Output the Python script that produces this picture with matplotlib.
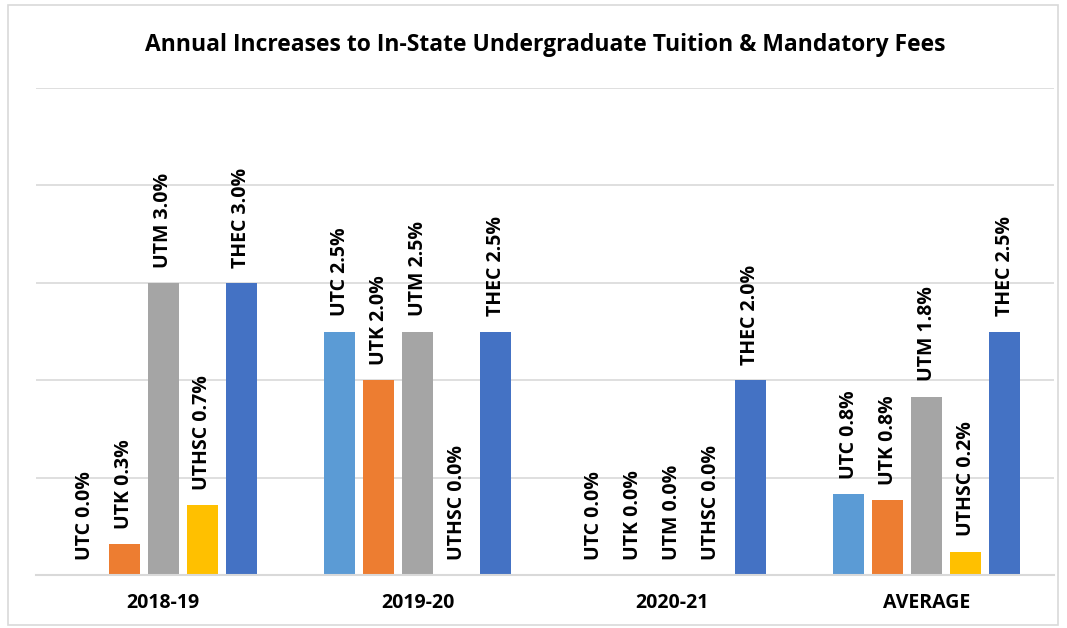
import numpy as np
import matplotlib
matplotlib.use('Agg')
import matplotlib.pyplot as plt
from matplotlib.patches import Rectangle

plt.rcParams['font.family'] = ['Open Sans', 'DejaVu Sans']

# Donnees
annees = ['2018-19', '2019-20', '2020-21', 'AVERAGE']
campus = ['UTC', 'UTK', 'UTM', 'UTHSC', 'THEC']
utc = [0.0, 2.5, 0.0, 0.83]
utk = [0.32, 2.0, 0.0, 0.77]
utm = [3.0, 2.5, 0.0, 1.83]
uthsc = [0.72, 0.0, 0.0, 0.24]
thec = [3.0, 2.5, 2.0, 2.5]
couleurs = ['#5B9BD5', '#ED7D31', '#A5A5A5', '#FFC000', '#4472C4']

series = [utc, utk, utm, uthsc, thec]

fig = plt.figure(figsize=(10.67, 6.28), dpi=100)
ax = fig.add_axes([36/1067, 1-575/628, 1018/1067, 487/628])

x = np.arange(len(annees))
larg = 0.122
pas = 0.153

for i, (nom, val) in enumerate(zip(campus, series)):
    pos = x + (i - 2) * pas
    ax.bar(pos, val, larg, color=couleurs[i], zorder=2)
    for xp, v in zip(pos, val):
        ax.annotate('%s %.1f%%' % (nom, v), (xp, v), xytext=(0, 11),
                    textcoords='offset points', rotation=90, ha='center',
                    va='bottom', fontsize=14, fontweight='bold', color='black')

ax.set_xlim(-0.5, 3.5)
ax.set_ylim(0, 5)
ax.set_yticks(np.arange(0, 6, 1))
ax.set_yticklabels([])
ax.yaxis.grid(True, color='#D9D9D9', lw=1.2, zorder=0)
ax.tick_params(axis='y', length=0)
ax.tick_params(axis='x', length=0, pad=13)
ax.set_xticks(x)
ax.set_xticklabels(annees, fontsize=14, fontweight='bold')
for s in ['top', 'right', 'left']:
    ax.spines[s].set_visible(False)
ax.spines['bottom'].set_color('#D9D9D9')
ax.spines['bottom'].set_linewidth(1.5)

fig.text(545/1067, 1-45/628, 'Annual Increases to In-State Undergraduate Tuition & Mandatory Fees',
         ha='center', va='center', fontsize=16.5, fontweight='bold')

# cadre du graphique
fig.patches.append(Rectangle((8/1067, 3/628), 1050/1067, 620/628, transform=fig.transFigure,
                             fill=False, edgecolor='#D9D9D9', lw=1.2))

plt.savefig('out.png', dpi=100)
